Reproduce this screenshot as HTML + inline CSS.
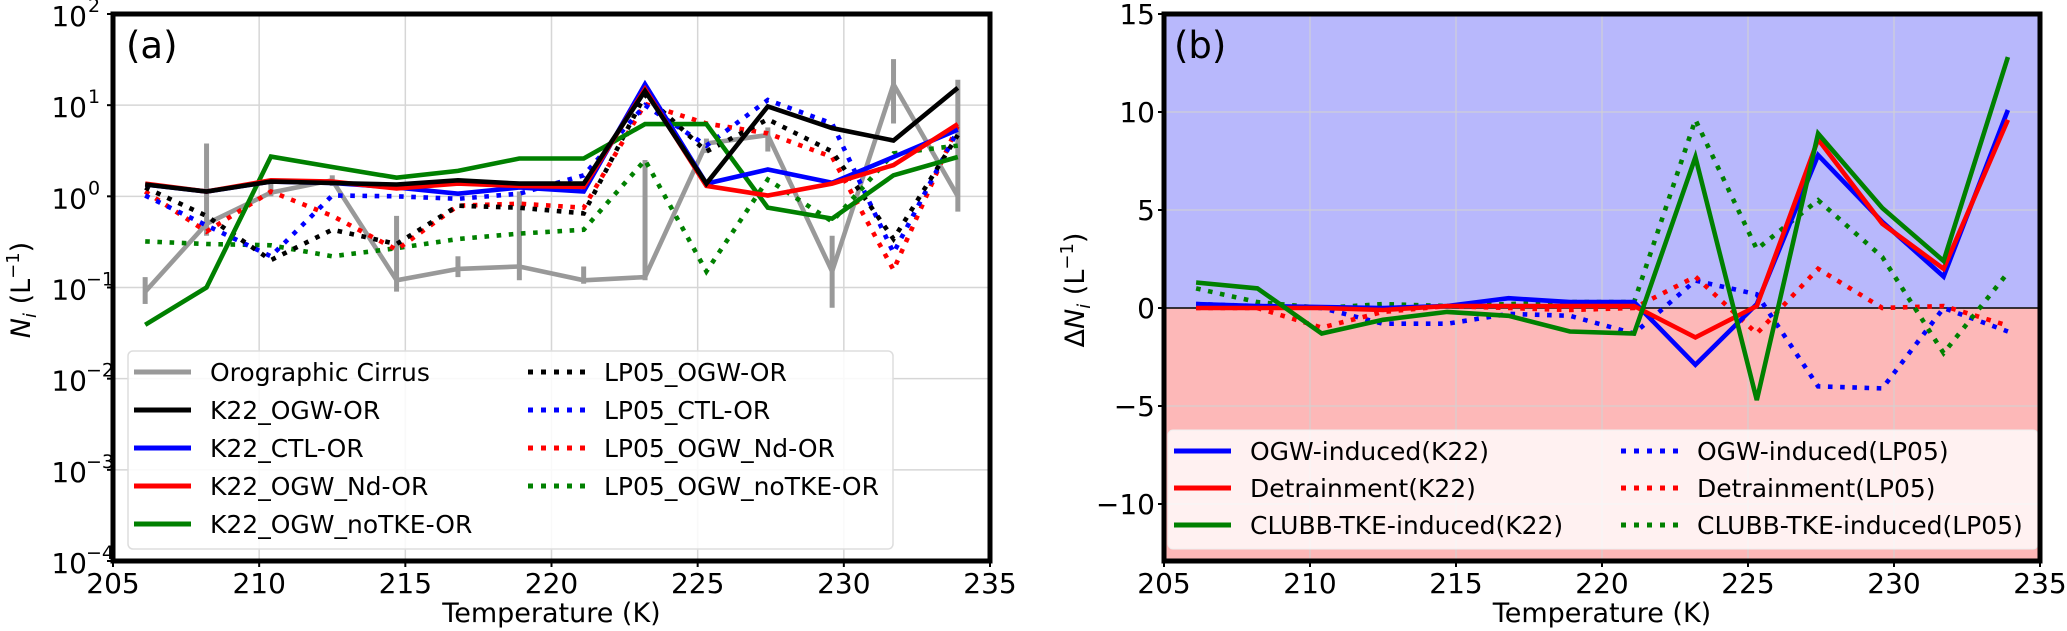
<!DOCTYPE html>
<html><head><meta charset="utf-8"><style>
html,body{margin:0;padding:0;background:#fff;}
svg{display:block;font-family:"DejaVu Sans","Liberation Sans",sans-serif;}
</style></head><body>
<svg id="chart" width="2067" height="631" viewBox="0 0 2067 631" xmlns="http://www.w3.org/2000/svg">
<g id="pa"></g>
<g id="pb"></g>
</svg>
<script>
// ---- shared data ----
const temps = [206.1,208.2,210.4,212.5,214.7,216.8,218.9,221.1,223.2,225.3,227.4,229.6,231.7,233.9];
const xTicks = [205,210,215,220,225,230,235];
// ---- panel a data (L^-1) ----
const obsCirrus = [0.09,0.5,1.1,1.5,0.12,0.16,0.17,0.12,0.13,3.8,4.7,0.15,17,1.0];
const obsErrLo = [0.066,0.37,1.0,1.3,0.09,0.13,0.12,0.11,0.12,3.0,3.1,0.06,6.3,0.68];
const obsErrHi = [0.13,3.8,1.5,1.7,0.61,0.22,1.13,0.17,2.5,4.3,5.7,0.37,32,19];
const k22OGW = [1.35,1.13,1.45,1.4,1.35,1.5,1.38,1.38,14.3,1.38,9.7,5.6,4.1,15.5];
const k22CTL = [1.35,1.13,1.45,1.4,1.25,1.07,1.25,1.13,17,1.38,1.97,1.41,2.7,5.4];
const k22Nd = [1.38,1.13,1.5,1.45,1.22,1.38,1.3,1.27,15,1.3,1.02,1.38,2.2,6.2];
const k22noTKE = [0.039,0.1,2.73,2.1,1.6,1.9,2.6,2.6,6.2,6.2,0.75,0.57,1.7,2.7];
const lp05OGW = [1.25,0.61,0.2,0.43,0.3,0.79,0.75,0.65,12.9,3.1,7,3.1,0.34,4.7];
const lp05CTL = [1.02,0.48,0.22,1.02,1.0,0.94,1.07,1.7,10,3.6,11.4,6.3,0.24,5.3];
const lp05Nd = [1.13,0.41,1.13,0.61,0.26,0.79,0.83,0.75,10.3,6.3,4.9,2.7,0.156,6];
const lp05noTKE = [0.32,0.3,0.29,0.22,0.27,0.34,0.39,0.43,2.5,0.15,1.53,0.53,2.96,3.6];
const yTickExpA = [2,1,0,-1,-2,-3,-4];
// ---- panel b data (ΔN_i) ----
const ogwK22 = [0.2,0.1,0.05,0,0.1,0.5,0.3,0.3,-2.9,0.2,7.8,4.4,1.6,10.1];
const detK22 = [0,0,0,-0.1,0.1,0.1,0.1,0.1,-1.5,0.1,8.6,4.3,2.0,9.6];
const clubbK22 = [1.3,1.0,-1.3,-0.6,-0.2,-0.4,-1.2,-1.3,7.7,-4.7,8.9,5.1,2.4,12.8];
const ogwLP05 = [0.2,0.1,0.0,-0.8,-0.8,-0.3,-0.4,-1.3,1.4,0.7,-4.0,-4.1,0,-1.2];
const detLP05 = [0.0,0.0,-1.0,-0.2,0.1,0.0,-0.1,0.0,1.6,-1.3,2.0,0.0,0.1,-0.9];
const clubbLP05 = [1.0,0.3,0.0,0.2,0.1,0.2,0.3,0.3,9.6,3.0,5.5,2.6,-2.3,1.8];
const yTicksB = [15,10,5,0,-5,-10];

const NS='http://www.w3.org/2000/svg';
function mk(parent,tag,attrs){const e=document.createElementNS(NS,tag);for(const k in attrs)e.setAttribute(k,attrs[k]);parent.appendChild(e);return e;}

function panel(g,L,R,T,B,xs,ys,opts){
  // grid
  xTicks.forEach(t=>{const l=mk(g,'line',{x1:xs(t),x2:xs(t),y1:T,y2:B,stroke:opts.grid,'stroke-width':1.5});
    
    });
  opts.yt.forEach(v=>{const y=opts.yv(v);const l=mk(g,'line',{x1:L,x2:R,y1:y,y2:y,stroke:opts.grid,'stroke-width':1.5});
    
    });
}
function series(g,vals,xs,ys,color,dotted,name){
  const d=vals.map((v,i)=>(i?'L':'M')+xs(temps[i]).toFixed(1)+' '+ys(v).toFixed(1)).join(' ');
  const p=mk(g,'path',{d:d,fill:'none',stroke:color,'stroke-width':dotted?4.6:4.6,'stroke-linejoin':'miter','stroke-dasharray':dotted?'4.6 7.6':'none'});
  
  
}
function xAxis(g,L,xs,B){
  xTicks.forEach(t=>{const x=xs(t);mk(g,'line',{x1:x,x2:x,y1:B,y2:B+6,stroke:'#000','stroke-width':2});
    const tx=mk(g,'text',{x:x,y:B+32,'font-size':28,'text-anchor':'middle'});tx.textContent=t;
    
    });
}
function legendEntry(g,x,y,color,dotted,label){
  const l=mk(g,'line',{x1:x,x2:x+57,y1:y,y2:y,stroke:color,'stroke-width':5,'stroke-dasharray':dotted?'5 8':'none'});
  
  
  const t=mk(g,'text',{x:x+76,y:y+9,'font-size':25});t.textContent=label;
  
  
}

// ===== Panel A =====
(function(){
  const g=document.getElementById('pa');
  const L=113,R=990,T=14,B=561;
  const xs=t=>L+(t-205)/30*(R-L);
  const ys=v=>T+(2-Math.log10(v))/6*(B-T);
  panel(g,L,R,T,B,xs,ys,{grid:'#d6d6d6',yt:yTickExpA,yv:e=>ys(Math.pow(10,e))});
  // error bars
  temps.forEach((t,i)=>{const l=mk(g,'line',{x1:xs(t),x2:xs(t),y1:ys(obsErrLo[i]),y2:ys(obsErrHi[i]),stroke:'#999','stroke-width':5});
    
    });
  series(g,obsCirrus,xs,ys,'#999',false,'orographic-cirrus-line');
  series(g,lp05noTKE,xs,ys,'#008000',true,'lp05-ogw-notke-line');
  series(g,lp05Nd,xs,ys,'#ff0000',true,'lp05-ogw-nd-line');
  series(g,lp05CTL,xs,ys,'#0000ff',true,'lp05-ctl-line');
  series(g,lp05OGW,xs,ys,'#000',true,'lp05-ogw-line');
  series(g,k22noTKE,xs,ys,'#008000',false,'k22-ogw-notke-line');
  series(g,k22CTL,xs,ys,'#0000ff',false,'k22-ctl-line');
  series(g,k22Nd,xs,ys,'#ff0000',false,'k22-ogw-nd-line');
  series(g,k22OGW,xs,ys,'#000',false,'k22-ogw-line');
  // legend
  const lg=mk(g,'g',{});
  mk(lg,'rect',{x:128,y:351,width:765,height:198,rx:5,fill:'rgba(255,255,255,0.85)',stroke:'#ddd','stroke-width':1.5});
  const rows=[372,410,448,486,524];
  const c1=[['#999','Orographic Cirrus'],['#000','K22_OGW-OR'],['#0000ff','K22_CTL-OR'],['#ff0000','K22_OGW_Nd-OR'],['#008000','K22_OGW_noTKE-OR']];
  const c2=[['#000','LP05_OGW-OR'],['#0000ff','LP05_CTL-OR'],['#ff0000','LP05_OGW_Nd-OR'],['#008000','LP05_OGW_noTKE-OR']];
  c1.forEach((c,i)=>legendEntry(lg,134,rows[i],c[0],false,c[1]));
  c2.forEach((c,i)=>legendEntry(lg,528,rows[i],c[0],true,c[1]));
  // frame
  mk(g,'rect',{x:L,y:T,width:R-L,height:B-T,fill:'none',stroke:'#000','stroke-width':5});
  yTickExpA.forEach(e=>{const y=ys(Math.pow(10,e));mk(g,'line',{x1:L-6,x2:L,y1:y,y2:y,stroke:'#000','stroke-width':2});
    const t=mk(g,'text',{x:L-26,y:y+12,'font-size':28,'text-anchor':'end'});t.textContent='10';
    
    
    const s=mk(g,'text',{x:L-25,y:y-2,'font-size':19,'text-anchor':'start'});s.textContent=(e<0?'\u2212':'')+Math.abs(e);
    if(e<0)s.setAttribute('x',L-27);
    
    });
  xAxis(g,L,xs,B);
  const xt=mk(g,'text',{x:(L+R)/2,y:622,'font-size':27,'text-anchor':'middle'});xt.textContent='Temperature (K)';
  
  const yt=mk(g,'text',{x:0,y:0,'font-size':27,'text-anchor':'middle',transform:'translate(30,290) rotate(-90)'});
  yt.innerHTML='<tspan font-style="italic">N</tspan><tspan font-size="18" font-style="italic" dy="6">i</tspan><tspan dy="-6"> (L</tspan><tspan font-size="18" dy="-11">\u22121</tspan><tspan dy="11">)</tspan>';
  
  const pl=mk(g,'text',{x:126,y:58,'font-size':37});pl.textContent='(a)';
  
})();

// ===== Panel B =====
(function(){
  const g=document.getElementById('pb');
  const L=1164,R=2040,T=14,B=561;
  const ymax=15,ymin=15-(B-T)/19.6;
  const xs=t=>L+(t-205)/30*(R-L);
  const ys=v=>T+(ymax-v)/(ymax-ymin)*(B-T);
  const bgT=mk(g,'rect',{x:L,y:T,width:R-L,height:ys(0)-T,fill:'#b8b8fc'});
  
  const bgB=mk(g,'rect',{x:L,y:ys(0),width:R-L,height:B-ys(0),fill:'#fdb8b8'});
  
  panel(g,L,R,T,B,xs,ys,{grid:'rgba(210,210,210,0.7)',yt:yTicksB,yv:ys});
  const z=mk(g,'line',{x1:L,x2:R,y1:ys(0),y2:ys(0),stroke:'#000','stroke-width':1.5});
  
  series(g,ogwLP05,xs,ys,'#0000ff',true,'ogw-induced-lp05-line');
  series(g,detLP05,xs,ys,'#ff0000',true,'detrainment-lp05-line');
  series(g,clubbLP05,xs,ys,'#008000',true,'clubb-tke-induced-lp05-line');
  series(g,ogwK22,xs,ys,'#0000ff',false,'ogw-induced-k22-line');
  series(g,detK22,xs,ys,'#ff0000',false,'detrainment-k22-line');
  series(g,clubbK22,xs,ys,'#008000',false,'clubb-tke-induced-k22-line');
  const lg=mk(g,'g',{});
  mk(lg,'rect',{x:1168,y:430,width:870,height:119,rx:5,fill:'rgba(255,255,255,0.8)',stroke:'#eee','stroke-width':1});
  const rows=[451,488,525];
  [['#0000ff','OGW-induced(K22)'],['#ff0000','Detrainment(K22)'],['#008000','CLUBB-TKE-induced(K22)']].forEach((c,i)=>legendEntry(lg,1174,rows[i],c[0],false,c[1]));
  [['#0000ff','OGW-induced(LP05)'],['#ff0000','Detrainment(LP05)'],['#008000','CLUBB-TKE-induced(LP05)']].forEach((c,i)=>legendEntry(lg,1621,rows[i],c[0],true,c[1]));
  mk(g,'rect',{x:L,y:T,width:R-L,height:B-T,fill:'none',stroke:'#000','stroke-width':5});
  yTicksB.forEach(v=>{const y=ys(v);mk(g,'line',{x1:L-6,x2:L,y1:y,y2:y,stroke:'#000','stroke-width':2});
    const t=mk(g,'text',{x:L-9,y:y+10,'font-size':28,'text-anchor':'end'});t.textContent=(v<0?'\u2212':'')+Math.abs(v);
    
    });
  xAxis(g,L,xs,B);
  const xt=mk(g,'text',{x:(L+R)/2,y:622,'font-size':27,'text-anchor':'middle'});xt.textContent='Temperature (K)';
  
  const yt=mk(g,'text',{x:0,y:0,'font-size':27,'text-anchor':'middle',transform:'translate(1084,290) rotate(-90)'});
  yt.innerHTML='<tspan>\u0394</tspan><tspan font-style="italic">N</tspan><tspan font-size="18" font-style="italic" dy="6">i</tspan><tspan dy="-6"> (L</tspan><tspan font-size="18" dy="-11">\u22121</tspan><tspan dy="11">)</tspan>';
  
  const pl=mk(g,'text',{x:1174,y:58,'font-size':37});pl.textContent='(b)';
  
})();
</script>
</body></html>
